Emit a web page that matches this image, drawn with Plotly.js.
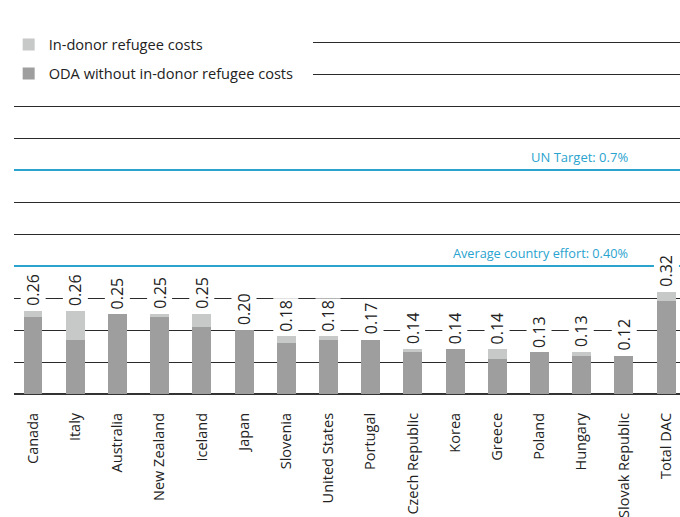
<!DOCTYPE html>
<html>
<head>
<meta charset="utf-8">
<script src="https://cdn.plot.ly/plotly-3.0.1.min.js"></script>
<style>html,body{margin:0;padding:0;background:#fff;}#chart{width:680px;height:517px;}</style>
</head>
<body>
<div id="chart"></div>
<script>
const countries = ["Canada","Italy","Australia","New Zealand","Iceland","Japan","Slovenia","United States","Portugal","Czech Republic","Korea","Greece","Poland","Hungary","Slovak Republic","Total DAC"];
const odaWithout = [0.24,0.17,0.25,0.24,0.21,0.20,0.16,0.17,0.17,0.13,0.14,0.11,0.13,0.12,0.12,0.29];
const refugeeCosts = [0.02,0.09,0.00,0.01,0.04,0.00,0.02,0.01,0.00,0.01,0.00,0.03,0.00,0.01,0.00,0.03];
const totalLabels = ["0.26","0.26","0.25","0.25","0.25","0.20","0.18","0.18","0.17","0.14","0.14","0.14","0.13","0.13","0.12","0.32"];
const unTarget = 0.7;
const avgEffort = 0.40;
const unLabel = "UN Target: 0.7%";
const avgLabel = "Average country effort: 0.40%";

const FONT = "Open Sans, Noto Sans, sans-serif";
const BLUE = "#2aa3cf";

const traces = [
  {type:"bar", name:"ODA without in-donor refugee costs", x:countries, y:odaWithout,
   marker:{color:"#9e9e9e"}, width:0.45, legendgroup:"a", legendrank:2, hoverinfo:"skip"},
  {type:"bar", name:"In-donor refugee costs", x:countries, y:refugeeCosts,
   marker:{color:"#c7c8c8"}, width:0.45, legendgroup:"b", legendrank:1, hoverinfo:"skip"}
];

const annotations = countries.map((c,i)=>({
  x:c, y:odaWithout[i]+refugeeCosts[i], xref:"x", yref:"y",
  text:totalLabels[i], textangle:-90, showarrow:false,
  xanchor:"center", yanchor:"bottom", yshift:3,
  bgcolor:"#ffffff", borderpad:1,
  font:{family:FONT, size:16, color:"#222"}
}));
annotations.push({x:0.925, xref:"paper", y:unTarget, yref:"y", text:unLabel, showarrow:false,
  xanchor:"right", yanchor:"bottom", yshift:2, font:{family:FONT, size:13, color:BLUE}});
annotations.push({x:0.925, xref:"paper", y:avgEffort, yref:"y", text:avgLabel, showarrow:false,
  xanchor:"right", yanchor:"bottom", yshift:2, font:{family:FONT, size:12.7, color:BLUE}});

const layout = {
  width:680, height:517,
  margin:{l:14, r:0, t:10, b:123},
  paper_bgcolor:"#fff", plot_bgcolor:"#fff",
  barmode:"stack",
  showlegend:true,
  legend:{x:-0.008, y:0.952, xanchor:"left", yanchor:"top", bgcolor:"#fff",
    traceorder:"grouped", tracegroupgap:7,
    font:{family:FONT, size:14.6, color:"#222"}},
  xaxis:{range:[-0.45, 15.33], tickangle:-90, showgrid:false, zeroline:false, showline:false,
    ticks:"", ticklabelstandoff:15, tickfont:{family:FONT, size:14.5, color:"#222"}, fixedrange:true},
  yaxis:{range:[0, 1.2005], tick0:0, dtick:0.1, showticklabels:false, ticks:"",
    showgrid:true, gridcolor:"#2a2a2a", gridwidth:1,
    zeroline:true, zerolinecolor:"#333", zerolinewidth:2, fixedrange:true},
  shapes:[
    {type:"rect", xref:"paper", x0:-0.021, x1:0.449, yref:"paper", y0:0.79, y1:0.96,
     fillcolor:"#ffffff", line:{width:0}},
    {type:"line", xref:"paper", x0:0, x1:1, yref:"y", y0:unTarget, y1:unTarget, line:{color:BLUE, width:2}},
    {type:"line", xref:"paper", x0:0, x1:1, yref:"y", y0:avgEffort, y1:avgEffort, line:{color:BLUE, width:2}}
  ],
  annotations:annotations
};

Plotly.newPlot("chart", traces, layout, {displayModeBar:false, staticPlot:true});
</script>
</body>
</html>
